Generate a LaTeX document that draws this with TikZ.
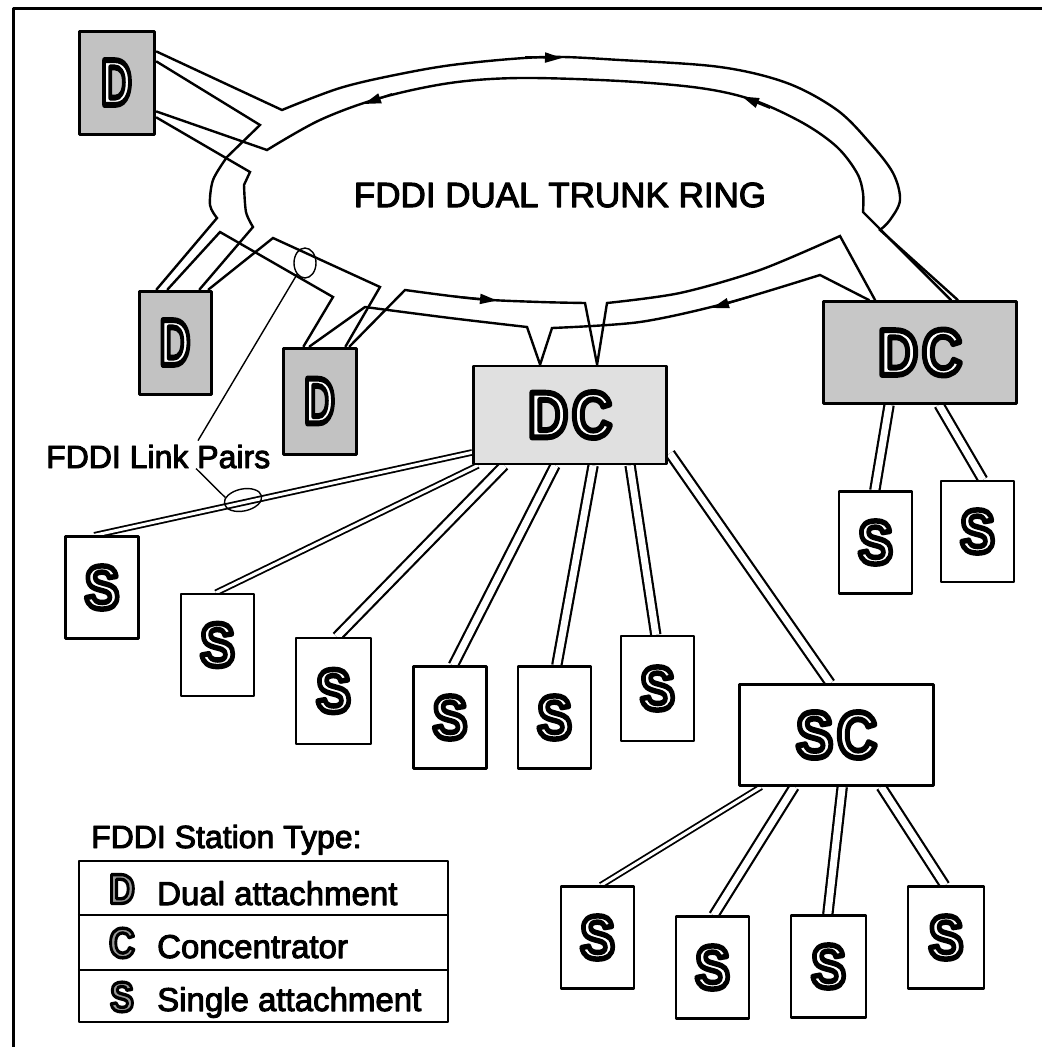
\documentclass[tikz,border=0pt]{standalone}
\usepackage{fontspec}
\setmainfont{Liberation Sans}
\newfontfamily\lblf{Liberation Sans}[FakeBold=3]
\newfontfamily\letf{Liberation Sans Bold}[FakeBold=9]
\newfontfamily\letsf{Liberation Sans Bold}[FakeBold=8]
\usetikzlibrary{arrows.meta,calc,shapes.geometric}
\pgfdeclarelayer{bg}
\pgfsetlayers{bg,main}
% outlined letter: white (or given) fill, black stroke, one text
\newcommand\olet[3][white]{\scalebox{#2}[1]{\textcolor{#1}{\special{pdf:literal direct 0 0 0 RG}#3}}}
\begin{document}
\begin{tikzpicture}[x=1pt,y=-1pt,line join=round,
  stn/.style={draw, line width=2.4pt, fill=white, inner sep=0pt, minimum width=73pt, minimum height=102pt},
  dstn/.style={stn, line width=3pt, fill=black!24},
  bigstn/.style={stn, line width=2.8pt, minimum width=193pt, minimum height=98pt},
  letD/.style={font=\letf\fontsize{65}{65}\selectfont},
  letS/.style={font=\letf\fontsize{61}{61}\selectfont},
  letL/.style={font=\letsf\fontsize{42}{42}\selectfont},
  ring/.style={line width=2.4pt, line cap=round},
  arr/.style={line width=2pt, -{Triangle[length=17pt,width=10pt]}},
  link/.style={double=white, double distance=7pt, line width=2.2pt},
  tlink/.style={double=white, double distance=3pt, line width=1.8pt},
  txt/.style={font=\lblf\fontsize{32}{36}\selectfont, inner sep=0pt},
  rowtxt/.style={font=\lblf\fontsize{33}{36}\selectfont, inner sep=0pt},
  callout/.style={line width=1.4pt}
]
\useasboundingbox (0,0) rectangle (1042,1047);
\draw[line width=3pt] (13,1047) -- (13,8) -- (1042,8);

% ring stations
\node[dstn, minimum width=75pt, minimum height=103pt, letD] (D1) at (116.5,82.5) {\olet{0.65}{D}};
\node[dstn, minimum width=72pt, minimum height=103pt, letD] (D2) at (175,342.5) {\olet{0.65}{D}};
\node[dstn, minimum width=73pt, minimum height=106pt, letD] (D3) at (319.5,401) {\olet{0.65}{D}};
\node[bigstn, fill=black!12, letD] (DC) at (570,415) {\olet{0.85}{D}\hspace{4pt}\olet{0.85}{C}};
\node[bigstn, fill=black!22, minimum height=102pt, letD] (DCR) at (920,352.5) {\olet{0.85}{D}\hspace{4pt}\olet{0.85}{C}};

% single stations
\node[stn, letS] (S1) at (102,587.5) {\olet{0.85}{S}};
\node[stn, letS] (S2) at (217.5,645) {\olet{0.85}{S}};
\node[stn, minimum width=75pt, minimum height=106pt, letS] (S3) at (333.5,691) {\olet{0.85}{S}};
\node[stn, letS] (S4) at (450,717.5) {\olet{0.85}{S}};
\node[stn, letS] (S5) at (554.5,717.5) {\olet{0.85}{S}};
\node[stn, minimum height=105pt, letS] (S6) at (657.5,688.5) {\olet{0.85}{S}};
\node[stn, letS] (SR1) at (875.5,542.5) {\olet{0.85}{S}};
\node[stn, minimum height=101pt, letS] (SR2) at (977.5,531.5) {\olet{0.85}{S}};
\node[bigstn, minimum width=194pt, minimum height=101pt, line width=2.6pt, letD] (SC) at (836.5,735) {\olet{0.85}{S}\hspace{4pt}\olet{0.85}{C}};
\node[stn, letS] (SB1) at (597.5,937.5) {\olet{0.85}{S}};
\node[stn, letS] (SB2) at (712.5,967.5) {\olet{0.85}{S}};
\node[stn, minimum width=75pt, letS] (SB3) at (828.5,966.5) {\olet{0.85}{S}};
\node[stn, minimum width=76pt, letS] (SB4) at (946,937.5) {\olet{0.85}{S}};

\node[font=\lblf\fontsize{35}{35}\selectfont, inner sep=0pt] (ringlbl) at (560,195) {FDDI DUAL TRUNK RING};

\begin{pgfonlayer}{bg}
% outer ring, top
\draw[ring] ($(D1.north east)+(1,22)$) -- plot[smooth, tension=0.55] coordinates {(282,110) (340,88) (400,74) (460,64) (545,57) (620,60) (720,67) (787,83) (837,110) (870,143) (893,173) (900,200) (890,220) (880,230)} -- ($(DCR.north east)+(-60,0)$);
% inner ring, top
\draw[ring] ($(DCR.north east)+(-67,0)$) -- plot[smooth, tension=0.55] coordinates {(863,212) (863,193) (857,173) (837,147) (803,123) (753,100) (700,88) (620,81) (520,78) (450,83) (380,98) (320,120) (267,150)} -- ($(D1.north east)+(1,82)$);
% left side D1 - D2
\draw[ring] ($(D1.north east)+(1,32)$) -- (260,125) -- plot[smooth] coordinates {(227,157) (213,180) (210,205) (217,218)} -- ($(D2.north west)+(19,0)$);
\draw[ring] ($(D1.north east)+(1,88)$) -- (250,172) -- plot[smooth] coordinates {(244,185) (246,212) (253,227)} -- ($(D2.north west)+(62,0)$);
% D2 - D3
\draw[ring] ($(D2.north west)+(30,0)$) -- (220,232) -- (333,297) -- ($(D3.north west)+(22,0)$);
\draw[ring] ($(D2.north west)+(71,0)$) -- (273,238) -- (380,287) -- ($(D3.north west)+(64,0)$);
% outer ring, bottom
\draw[ring] ($(D3.north west)+(28,0)$) -- plot[smooth] coordinates {(365,307) (450,318) (527,327)} -- ($(DC.north west)+(68,0)$) -- plot[smooth] coordinates {(552,328) (640,322) (727,303) (820,275)} -- ($(DCR.north west)+(47,0)$);
% inner ring, bottom
\draw[ring] ($(D3.north west)+(68,0)$) -- plot[smooth] coordinates {(405,290) (477,299) (540,302) (585,303)} -- ($(DC.north west)+(125,0)$) -- plot[smooth] coordinates {(607,303) (680,293) (760,270) (840,236)} -- ($(DCR.north west)+(53,0)$);

% link pairs to single stations
\draw[tlink] ($(DC.south west)+(0,-13)$) -- ($(S1.north west)+(30,0)$);
\draw[tlink] ($(DC.south west)+(6,0)$) -- ($(S2.north west)+(36,0)$);
\draw[link] ($(DC.south west)+(32,0)$) -- ($(S3.north west)+(42,0)$);
\draw[link] ($(DC.south west)+(83,0)$) -- ($(S4.north west)+(41,0)$);
\draw[link] ($(DC.south west)+(121,0)$) -- ($(S5.north west)+(40,0)$);
\draw[link] ($(DC.south west)+(158,0)$) -- ($(S6.north west)+(36,0)$);
\draw[link] ($(DC.south east)+(2,-12)$) -- ($(SC.north west)+(92,0)$);
\draw[link] ($(DCR.south west)+(67,0)$) -- ($(SR1.north west)+(37,0)$);
\draw[link] ($(DCR.south west)+(117,0)$) -- ($(SR2.north west)+(43,0)$);
\draw[tlink] ($(SC.south west)+(23,0)$) -- ($(SB1.north west)+(41,0)$);
\draw[link] ($(SC.south west)+(56,0)$) -- ($(SB2.north west)+(39,0)$);
\draw[link] ($(SC.south west)+(104,0)$) -- ($(SB3.north west)+(38,0)$);
\draw[link] ($(SC.south west)+(143,0)$) -- ($(SB4.north west)+(38,0)$);
\end{pgfonlayer}

% ring arrows
\draw[arr] (525,57) -- (562,58);
\draw[arr] (770,108) -- (742,96.5);
\draw[arr] (392,94) -- (364,104);
\draw[arr] (455,296.5) -- (497,300.5);
\draw[arr] (752,296) -- (712,308);

% link pair callouts
\node[txt, anchor=base west] (lbl) at (46,468) {FDDI Link Pairs};
\node[draw, ellipse, callout, minimum width=22pt, minimum height=30pt, inner sep=0pt] (cl1) at (305,263) {};
\node[draw, ellipse, callout, minimum width=38pt, minimum height=22pt, inner sep=0pt, rotate=12] (cl2) at (243,500) {};
\draw[callout] (cl1.235) -- ($(lbl.north west)+(152,-4)$);
\draw[callout] ($(lbl.south west)+(150,0)$) -- (cl2.160);

% legend
\node[txt, anchor=base west] (lgt) at (91,848) {FDDI Station Type:};
\node[draw, line width=2.4pt, minimum width=369pt, minimum height=161pt, inner sep=0pt] (tbl) at (263.5,941.5) {};
\draw[line width=2.2pt] ($(tbl.north west)+(0,55)$) -- ($(tbl.north east)+(0,55)$);
\draw[line width=2.2pt] ($(tbl.north west)+(0,110)$) -- ($(tbl.north east)+(0,110)$);
\node[letL] (lgD) at (122,889) {\olet[black!40]{0.85}{D}};
\node[letL] (lgC) at (122,943) {\olet[black!40]{0.85}{C}};
\node[letL] (lgS) at (122,997) {\olet[black!40]{0.85}{S}};
\node[rowtxt, anchor=base west] (lgDt) at (157,905) {Dual attachment};
\node[rowtxt, anchor=base west] (lgCt) at (157,958) {Concentrator};
\node[rowtxt, anchor=base west] (lgSt) at (157,1011) {Single attachment};
\end{tikzpicture}
\end{document}
